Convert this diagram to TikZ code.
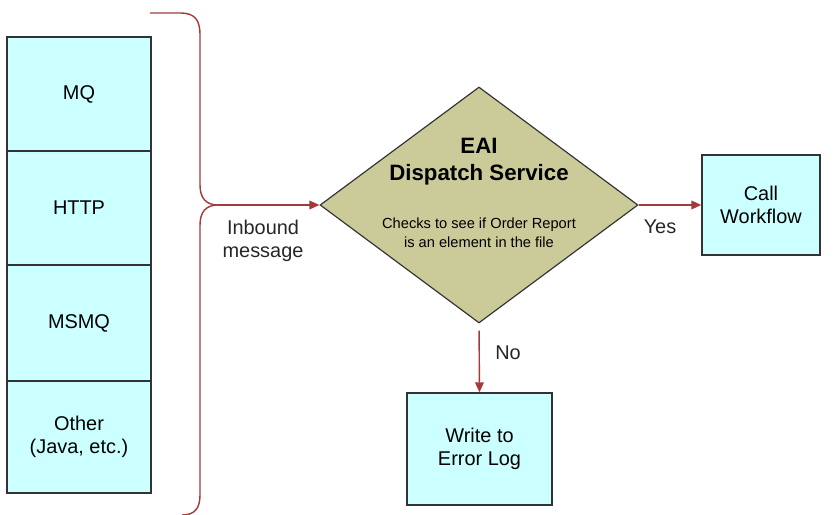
\documentclass[tikz,border=0pt]{standalone}
\usepackage{fontspec}
\setmainfont{Liberation Sans}
\usetikzlibrary{shapes.geometric,arrows.meta}
\definecolor{boxcyan}{HTML}{CCFFFF}
\definecolor{khaki}{HTML}{CBCB9A}
\definecolor{wine}{HTML}{A33A3A}
\tikzset{
  box/.style={draw=black!80,line width=1.1pt,fill=boxcyan,align=center,inner sep=0pt,
    font=\fontsize{17}{20}\selectfont},
  flow/.style={draw=wine,line width=1.2pt,-{Triangle[length=3mm,width=2.6mm]}},
  lbl/.style={font=\fontsize{17}{20}\selectfont,text=black!85,align=center}
}
\begin{document}
\begin{tikzpicture}[x=0.03cm,y=-0.03cm]
   \useasboundingbox (0,0) rectangle (839,515);
   % transports
   \node[box,minimum width=4.32cm,minimum height=3.42cm] (mq) at (79,94) {MQ};
   \node[box,minimum width=4.32cm,minimum height=3.42cm] (http) at (79,208) {HTTP};
   \node[box,minimum width=4.32cm,minimum height=3.48cm] (msmq) at (79,323) {MSMQ};
   \node[box,minimum width=4.32cm,minimum height=3.36cm] (other) at (79,437) {Other\\(Java, etc.)};
   % brace
   \draw[wine,line width=1.2pt] (150,13) -- (180,13) .. controls (195,13) and (200,20) .. (200,35)
     -- (200,185) .. controls (200,198) and (206,205) .. (218,205)
     .. controls (206,205) and (200,212) .. (200,225) -- (200,495)
     .. controls (200,508) and (195,515) .. (182,515);
   \coordinate (tip) at (218,205);
   % dispatch service
   \node[diamond,draw=black!80,line width=1pt,fill=khaki,inner sep=0pt,
     minimum width=9.54cm,minimum height=7.08cm] (disp) at (479,205) {};
   \node[font=\fontsize{19}{23}\bfseries,align=center] (title) at (479,162) {EAI\\Dispatch Service};
   \node[font=\fontsize{12.5}{16}\selectfont,align=center] (note) at (479,233)
     {Checks to see if Order Report\\is an element in the file};
   \node[box,minimum width=3.54cm,minimum height=3cm] (call) at (761,205) {Call\\Workflow};
   \node[box,minimum width=4.35cm,minimum height=3.36cm] (err) at (479.5,449) {Write to\\Error Log};
   % connectors
   \draw[flow] (tip) -- (disp.west);
   \node[lbl] (inb) at (263,241) {Inbound\\message};
   \draw[flow] (disp.east) -- (call.west);
   \node[lbl] (yes) at (660,227) {Yes};
   \draw[flow,shorten <=6pt] (disp.south) -- (err.north);
   \node[lbl] (no) at (508,353) {No};
 \end{tikzpicture}
\end{document}
